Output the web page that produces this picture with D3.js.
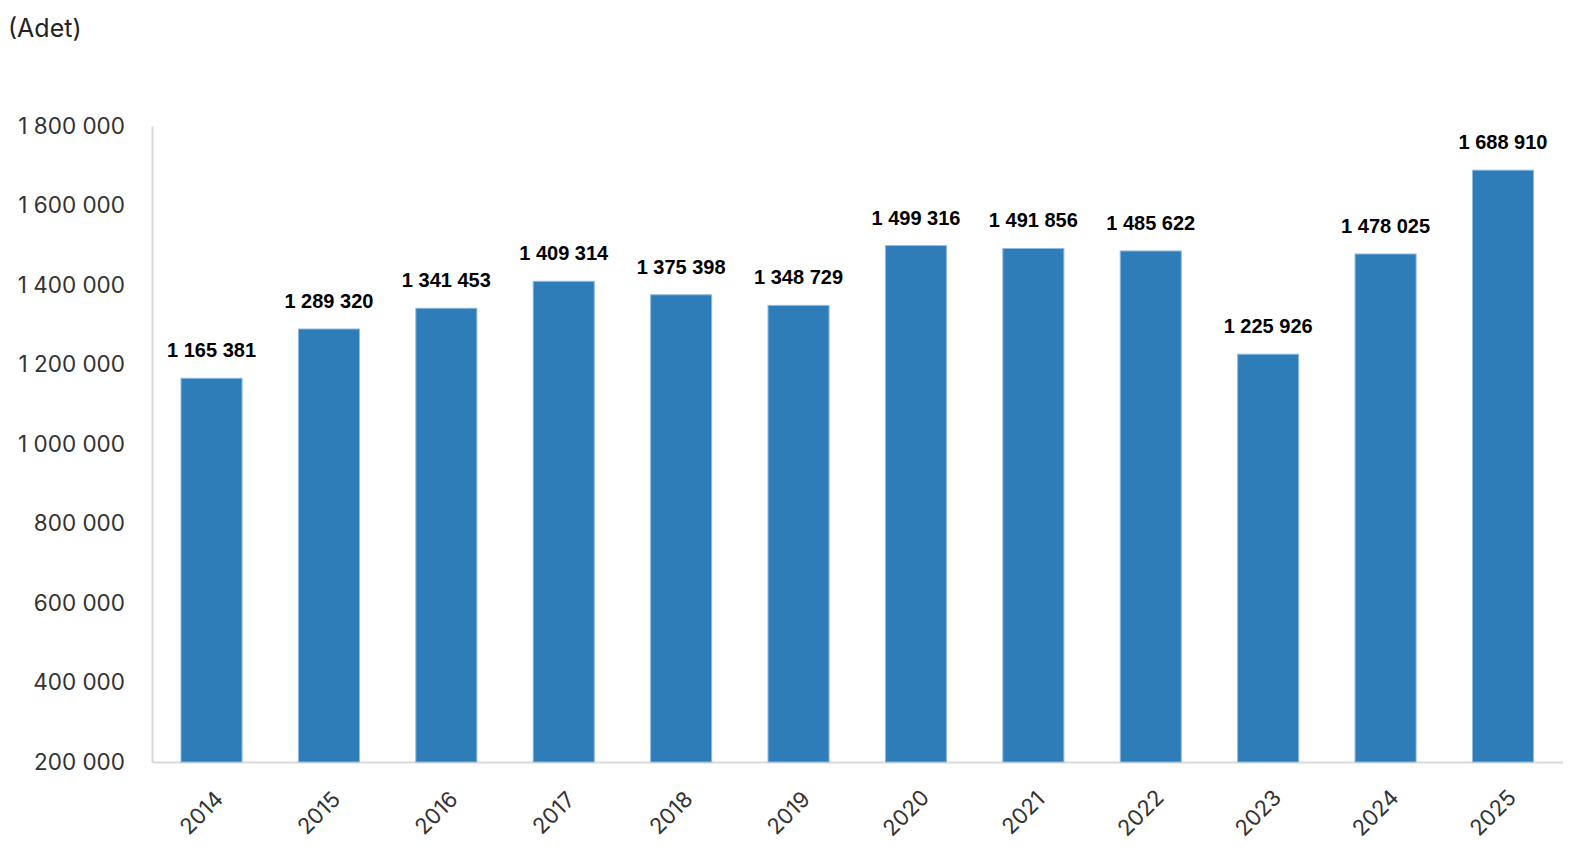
<!DOCTYPE html>
<html>
<head>
<meta charset="utf-8">
<script src="https://cdn.jsdelivr.net/npm/d3@7"></script>
<style>
  body { margin: 0; background: #fff; }
  svg { display: block; }
</style>
</head>
<body>
<div id="chart"></div>
<script>
// Data
const years = ["2014", "2015", "2016", "2017", "2018", "2019", "2020", "2021", "2022", "2023", "2024", "2025"];
const counts = [1165381, 1289320, 1341453, 1409314, 1375398, 1348729, 1499316, 1491856, 1485622, 1225926, 1478025, 1688910];
const yTicks = [200000, 400000, 600000, 800000, 1000000, 1200000, 1400000, 1600000, 1800000];

const data = years.map((y, i) => ({ year: y, value: counts[i] }));

// Dimensions
const W = 1570, H = 862;
const margin = { top: 126, right: 7.5, bottom: 100, left: 152 };
const width = W - margin.left - margin.right;
const height = H - margin.top - margin.bottom;

const fmt = v => d3.format(",")(v).replace(/,/g, " ");

const svg = d3.select("#chart")
  .append("svg")
  .attr("width", W)
  .attr("height", H);

// Unit label
svg.append("text")
  .attr("x", 8)
  .attr("y", 37)
  .attr("font-family", "Inter, 'Open Sans', sans-serif")
  .attr("font-size", 25)
  .attr("fill", "#222")
  .text("(Adet)");

const g = svg.append("g")
  .attr("transform", `translate(${margin.left},${margin.top})`);

// Scales
const x = d3.scaleBand()
  .domain(years)
  .range([0, width])
  .paddingInner(0.48)
  .paddingOuter(0.247);

const y = d3.scaleLinear()
  .domain([200000, 1800000])
  .range([height, 0]);

// Y axis
const yAxis = g.append("g")
  .call(d3.axisLeft(y).tickValues(yTicks).tickFormat(fmt).tickSize(0).tickPadding(27));
yAxis.select(".domain").attr("stroke", "#d9d9d9").attr("stroke-width", 2);
yAxis.selectAll("text")
  .attr("font-family", "Inter, 'Open Sans', sans-serif")
  .attr("font-size", 22.5)
  .attr("fill", "#333");

// X axis
const xAxis = g.append("g")
  .attr("transform", `translate(0,${height})`)
  .call(d3.axisBottom(x).tickSize(0).tickPadding(0));
xAxis.select(".domain").attr("stroke", "#d9d9d9").attr("stroke-width", 2);
xAxis.selectAll("text")
  .attr("font-family", "Inter, 'Open Sans', sans-serif")
  .attr("font-size", 22)
  .attr("fill", "#333")
  .attr("text-anchor", "middle")
  .attr("dy", null)
  .attr("y", 0)
  .attr("transform", "translate(-9,52) rotate(-45)")
  .attr("dominant-baseline", "middle");

// Bars
g.selectAll(".bar")
  .data(data)
  .enter()
  .append("rect")
  .attr("class", "bar")
  .attr("x", d => x(d.year))
  .attr("y", d => y(d.value))
  .attr("width", x.bandwidth())
  .attr("height", d => height - y(d.value))
  .attr("fill", "#2f7db8")
  .attr("stroke", "#8fbbe0")
  .attr("stroke-width", 1);

// Value labels
g.selectAll(".label")
  .data(data)
  .enter()
  .append("text")
  .attr("class", "label")
  .attr("x", d => x(d.year) + x.bandwidth() / 2)
  .attr("y", d => y(d.value) - 21)
  .attr("text-anchor", "middle")
  .attr("font-family", "'Liberation Sans', Arial, sans-serif")
  .attr("font-weight", "bold")
  .attr("font-size", 20)
  .attr("fill", "#000")
  .text(d => fmt(d.value));
</script>
</body>
</html>
